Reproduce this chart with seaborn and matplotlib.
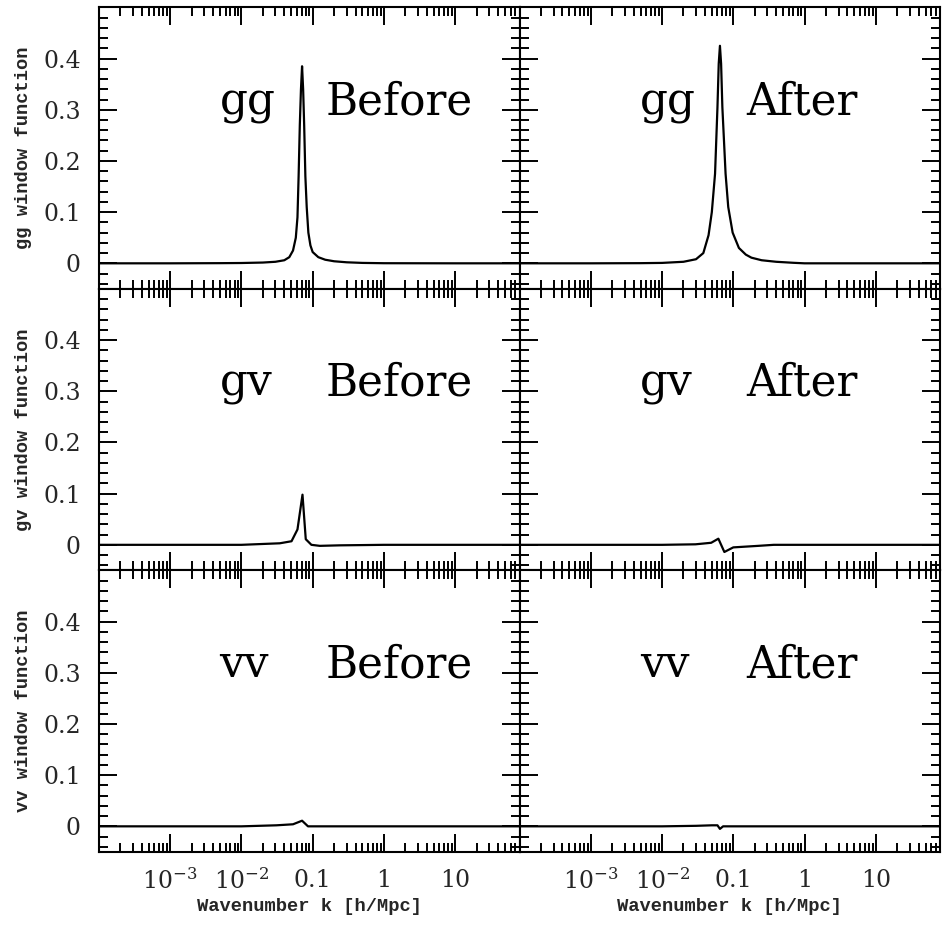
import numpy as np
import pandas as pd
import matplotlib
matplotlib.use("Agg")
import matplotlib.pyplot as plt
import matplotlib.ticker as mticker
import seaborn as sns

# ---------------- data ----------------
k_gg_before = [1e-4, 1e-3, 0.005, 0.01, 0.02, 0.03, 0.04, 0.047, 0.053, 0.058, 0.0612, 0.0635,
               0.066, 0.0685, 0.071, 0.0735, 0.076, 0.079, 0.0825, 0.087, 0.093, 0.1, 0.12,
               0.15, 0.2, 0.3, 0.5, 1, 10, 80]
w_gg_before = [0, 0, 0.0003, 0.0006, 0.0015, 0.003, 0.006, 0.012, 0.025, 0.05, 0.09, 0.17,
               0.27, 0.34, 0.385, 0.34, 0.27, 0.17, 0.11, 0.06, 0.035, 0.022, 0.012,
               0.007, 0.004, 0.002, 0.0008, 0.0002, 0, 0]

k_gg_after = [1e-4, 1e-3, 0.005, 0.01, 0.02, 0.03, 0.038, 0.045, 0.05, 0.0555, 0.060, 0.0625,
              0.065, 0.0675, 0.0703, 0.078, 0.085, 0.098, 0.12, 0.15, 0.18, 0.25, 0.4, 0.7,
              1, 10, 80]
w_gg_after = [0, 0, 0.0003, 0.0008, 0.003, 0.008, 0.02, 0.055, 0.1, 0.175, 0.305, 0.39,
              0.425, 0.39, 0.305, 0.175, 0.11, 0.06, 0.03, 0.017, 0.011, 0.006, 0.003, 0.001,
              0, 0, 0]

k_gv_before = [1e-4, 1e-3, 0.01, 0.0346, 0.0505, 0.0612, 0.072, 0.080, 0.096, 0.126, 0.24, 0.5, 1, 10, 80]
w_gv_before = [0, 0, 0, 0.003, 0.007, 0.03, 0.098, 0.011, 0.0, -0.002, -0.001, -0.0005, 0, 0, 0]

k_gv_after = [1e-4, 1e-3, 0.01, 0.0295, 0.049, 0.0618, 0.075, 0.1, 0.225, 0.37, 1, 10, 80]
w_gv_after = [0, 0, 0, 0.001, 0.004, 0.012, -0.014, -0.005, -0.002, 0, 0, 0, 0]

k_vv_before = [1e-4, 1e-3, 0.01, 0.031, 0.053, 0.071, 0.086, 0.1, 1, 10, 80]
w_vv_before = [0, 0, 0, 0.002, 0.004, 0.011, 0, 0, 0, 0, 0]

k_vv_after = [1e-4, 1e-3, 0.01, 0.03, 0.05, 0.06, 0.065, 0.072, 0.1, 1, 10, 80]
w_vv_after = [0, 0, 0, 0.001, 0.002, 0.002, -0.005, 0, 0, 0, 0, 0]

row_names = ["gg", "gv", "vv"]
col_names = ["Before", "After"]
series = {
    ("gg", "Before"): (k_gg_before, w_gg_before),
    ("gg", "After"): (k_gg_after, w_gg_after),
    ("gv", "Before"): (k_gv_before, w_gv_before),
    ("gv", "After"): (k_gv_after, w_gv_after),
    ("vv", "Before"): (k_vv_before, w_vv_before),
    ("vv", "After"): (k_vv_after, w_vv_after),
}

x_major = [1e-4, 1e-3, 1e-2, 0.1, 1, 10]
x_labels = ["", "$10^{-3}$", "$10^{-2}$", "0.1", "1", "10"]
y_major = [0, 0.1, 0.2, 0.3, 0.4]
y_labels = ["0", "0.1", "0.2", "0.3", "0.4"]

# ---------------- style ----------------
sns.set_theme(style="ticks")
plt.rcParams["font.family"] = ["DejaVu Serif"]
plt.rcParams["mathtext.fontset"] = "dejavuserif"
plt.rcParams["axes.linewidth"] = 1.5

fig, axes = plt.subplots(3, 2, figsize=(9.42, 9.25), dpi=100, sharex=True, sharey=True)
fig.subplots_adjust(left=0.105, right=0.998, top=0.992, bottom=0.079, wspace=0, hspace=0)

mono = dict(family=["Liberation Mono", "DejaVu Sans Mono"], weight="bold", size=13.5)

for i, rn in enumerate(row_names):
    for j, cn in enumerate(col_names):
        ax = axes[i, j]
        kk, ww = series[(rn, cn)]
        df = pd.DataFrame({"k": kk, "W": ww})
        sns.lineplot(data=df, x="k", y="W", ax=ax, color="black", linewidth=1.6,
                     estimator=None)
        ax.set_xscale("log")
        ax.set_xlim(1e-4, 80)
        ax.set_ylim(-0.05, 0.5)
        ax.xaxis.set_major_locator(mticker.FixedLocator(x_major))
        ax.xaxis.set_major_formatter(mticker.FixedFormatter(x_labels))
        ax.xaxis.set_minor_locator(mticker.LogLocator(base=10, subs=np.arange(2, 10), numticks=30))
        ax.xaxis.set_minor_formatter(mticker.NullFormatter())
        ax.yaxis.set_major_locator(mticker.FixedLocator(y_major))
        ax.yaxis.set_major_formatter(mticker.FixedFormatter(y_labels))
        ax.yaxis.set_minor_locator(mticker.MultipleLocator(0.02))
        ax.tick_params(which="both", direction="in", top=True, right=True, color="black",
                       width=1.4)
        ax.tick_params(which="major", length=13)
        ax.tick_params(which="minor", length=6.5)
        ax.tick_params(axis="y", which="major", labelsize=17, pad=13)
        ax.tick_params(axis="x", which="major", labelsize=17, pad=12)
        for sp in ax.spines.values():
            sp.set_linewidth(1.5)
            sp.set_color("black")
        ax.set_xlabel("")
        ax.set_ylabel("")
        ax.text(0.287, 0.62, rn, transform=ax.transAxes, fontsize=31.5, ha="left",
                va="baseline", color="black")
        ax.text(0.54, 0.62, cn, transform=ax.transAxes, fontsize=31.5, ha="left",
                va="baseline", color="black")
        if j == 0:
            ax.set_ylabel(f"{rn} window function", fontdict=mono)
            ax.yaxis.set_label_coords(-0.16, 0.5)
        if i == 2:
            ax.set_xlabel("Wavenumber k [h/Mpc]", fontdict=mono)
            ax.xaxis.set_label_coords(0.5, -0.165)

fig.savefig("out.png", dpi=100)
